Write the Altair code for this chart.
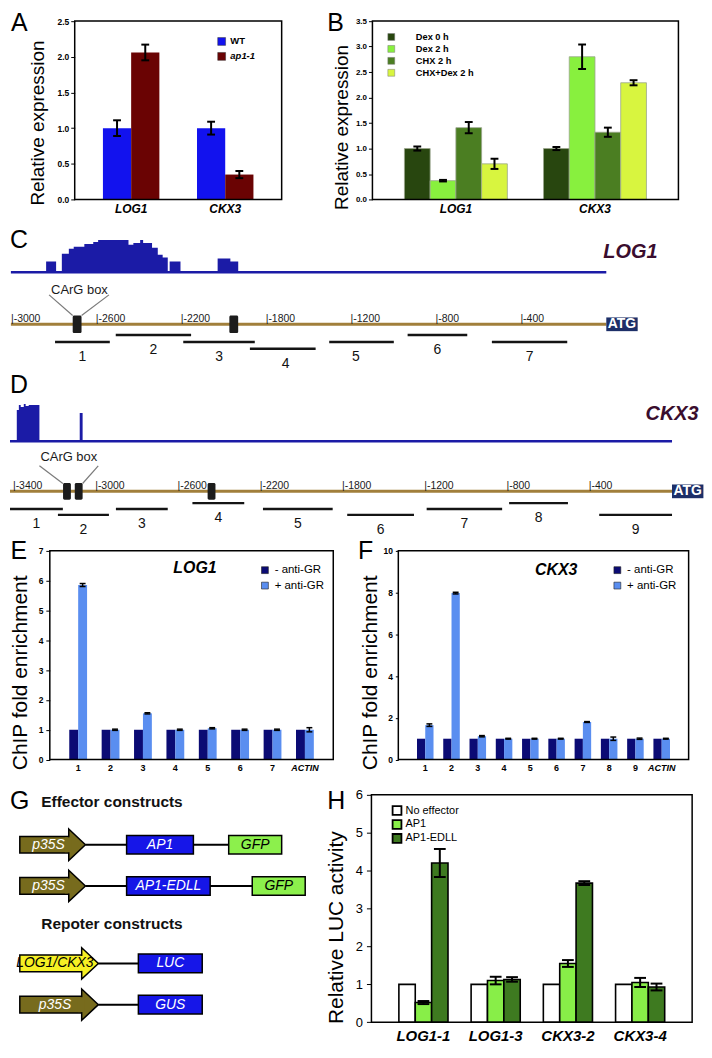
import altair as alt
import pandas as pd

K = 0.985


def px(v):
    return round(v * K, 2)


FONT = "Liberation Sans"

# ---------------- Panel A data ----------------
a_genes = ["LOG1", "CKX3"]
a_lines = ["WT", "ap1-1"]
a_wt = [1.00, 1.00]
a_wt_err = [0.11, 0.09]
a_ap1 = [2.06, 0.35]
a_ap1_err = [0.11, 0.05]
a_colors = ["#1212ee", "#6a0303"]

# ---------------- Panel B data ----------------
b_genes = ["LOG1", "CKX3"]
b_treat = ["Dex 0 h", "Dex 2 h", "CHX 2 h", "CHX+Dex 2 h"]
b_dex0 = [1.00, 1.00]
b_dex0_err = [0.04, 0.03]
b_dex2 = [0.37, 2.80]
b_dex2_err = [0.015, 0.24]
b_chx = [1.41, 1.32]
b_chx_err = [0.11, 0.09]
b_chxdex = [0.70, 2.29]
b_chxdex_err = [0.10, 0.05]
b_colors = ["#28460f", "#88f03e", "#4b7e22", "#d8f53f"]

# ---------------- Panel C data (LOG1 promoter) ----------------
c_ticks = [-3000, -2600, -2200, -1800, -1200, -800, -400, 0]
c_tick_labels = ["|-3000", "|-2600", "|-2200", "|-1800", "|-1200", "|-800", "|-400"]
c_cov_bp = [-3005, -2839, -2792, -2765, -2732, -2709, -2659, -2617, -2594, -2451, -2428,
            -2396, -2382, -2340, -2313, -2290, -2266, -2257, -2206, -2031, -1971, -1934, 0]
c_cov_val = [0, 11, 0, 19, 24, 26, 29, 31, 33, 28, 30, 33, 30, 25, 18, 15, 0, 11, 0, 14, 11, 0, 0]
c_frag_name = ["1", "2", "3", "4", "5", "6", "7"]
c_frag_start = [-2797, -2511, -2193, -1879, -1358, -936, -539]
c_frag_end = [-2539, -2156, -1856, -1454, -1001, -655, -184]
c_frag_lane = [2, 1, 2, 3, 2, 1, 2]
c_carg_bp = [-2693, -1955]
c_carg_label_bp = -2682
c_carg_line_from = [-2825, -2543]
c_carg_line_to = [-2714, -2672]

# ---------------- Panel D data (CKX3 promoter) ----------------
d_ticks = [-3400, -3000, -2600, -2200, -1800, -1200, -800, -400, 0]
d_tick_labels = ["|-3400", "|-3000", "|-2600", "|-2200", "|-1800", "|-1200", "|-800", "|-400"]
d_cov_bp = [-3419, -3386, -3376, -3367, -3352, -3343, -3328, -3276, -3080, -3066, 0]
d_cov_val = [0, 32, 37, 35, 38, 36, 37, 0, 29, 0, 0]
d_frag_name = ["1", "2", "3", "4", "5", "6", "7", "8", "9"]
d_frag_start = [-3419, -3186, -2904, -2532, -2189, -1769, -1193, -792, -354]
d_frag_end = [-3162, -2938, -2652, -2280, -1850, -1282, -826, -506, 0]
d_frag_lane = [2, 3, 2, 1, 2, 3, 2, 1, 3]
d_carg_bp = [-3142, -3085, -2439]
d_carg_label_bp = -3133
d_carg_line_from = [-3276, -2990]
d_carg_line_to = [-3162, -3066]

# ---------------- Panel E data (ChIP LOG1) ----------------
e_sites = ["1", "2", "3", "4", "5", "6", "7", "ACTIN"]
e_groups = ["- anti-GR", "+ anti-GR"]
e_minus = [1.0, 1.0, 1.0, 1.0, 1.0, 1.0, 1.0, 1.0]
e_minus_err = [0, 0, 0, 0, 0, 0, 0, 0]
e_plus = [5.85, 1.0, 1.55, 1.0, 1.05, 1.0, 1.0, 1.0]
e_plus_err = [0.05, 0.02, 0.02, 0.02, 0.02, 0.02, 0.02, 0.07]

# ---------------- Panel F data (ChIP CKX3) ----------------
f_sites = ["1", "2", "3", "4", "5", "6", "7", "8", "9", "ACTIN"]
f_minus = [1.0] * 10
f_minus_err = [0] * 10
f_plus = [1.65, 7.97, 1.12, 1.0, 1.0, 1.0, 1.8, 1.0, 1.0, 1.0]
f_plus_err = [0.06, 0.04, 0.03, 0.02, 0.02, 0.02, 0.02, 0.08, 0.03, 0.02]
ef_colors = ["#0b0b74", "#5a8ef0"]

# ---------------- Panel G data (constructs) ----------------
g_head_row = [0, 3]
g_head_text = ["Effector constructs", "Repoter constructs"]
g_head_x = [7.3, 7.3]
g_prom_row = [1, 2, 4, 5]
g_prom_start = [0.0, 0.0, 0.0, 0.0]
g_prom_end = [22.3, 22.3, 26.7, 26.7]
g_prom_label = ["p35S", "p35S", "LOG1/CKX3", "p35S"]
g_prom_fill = ["#776b1d", "#776b1d", "#f6f024", "#776b1d"]
g_prom_textcol = ["white", "white", "black", "white"]
g_box_row = [1, 1, 2, 2, 4, 5]
g_box_start = [36.3, 71.0, 36.3, 79.0, 40.3, 40.3]
g_box_end = [59.0, 89.0, 64.7, 97.0, 62.0, 62.0]
g_box_label = ["AP1", "GFP", "AP1-EDLL", "GFP", "LUC", "GUS"]
g_box_fill = ["#1616e8", "#8cf04c", "#1616e8", "#8cf04c", "#1616e8", "#1616e8"]
g_box_textcol = ["white", "black", "white", "black", "white", "white"]
g_link_end = [71.0, 79.0, 40.3, 40.3]
G_HEAD = 5.67  # arrow-head length in construct units

# ---------------- Panel H data (LUC assay) ----------------
h_reporters = ["LOG1-1", "LOG1-3", "CKX3-2", "CKX3-4"]
h_groups = ["No effector", "AP1", "AP1-EDLL"]
h_none = [1.0, 1.0, 1.0, 1.0]
h_none_err = [0, 0, 0, 0]
h_ap1 = [0.52, 1.10, 1.55, 1.05]
h_ap1_err = [0.04, 0.10, 0.09, 0.12]
h_edll = [4.20, 1.13, 3.67, 0.93]
h_edll_err = [0.37, 0.06, 0.05, 0.09]
h_colors = ["#ffffff", "#88ee48", "#3e7a20"]


# ======================= helpers =======================
def long_df(cats, groups, means, errs):
    rows = []
    for g, mlist, elist in zip(groups, means, errs):
        for c, m, e in zip(cats, mlist, elist):
            rows.append(dict(cat=c, grp=g, mean=m, err=e, lo=m - e, hi=m + e))
    return pd.DataFrame(rows)


def text_mark(t, x, y, size, weight="normal", style="normal", color="black",
              align="left", baseline="alphabetic"):
    return alt.Chart(pd.DataFrame({"t": [t]})).mark_text(
        font=FONT, fontSize=size, fontWeight=weight, fontStyle=style, color=color,
        align=align, baseline=baseline
    ).encode(text="t:N", x=alt.value(px(x)), y=alt.value(px(y)))


def y_axis(vals, fmt, lab_size, lab_weight, tick, lab_pad, title, t_size, tx, ty):
    return alt.Axis(values=vals, tickCount=len(vals), format=fmt, grid=False, domain=False,
                    ticks=True, tickSize=tick, tickColor="black", tickWidth=1,
                    labelOverlap=False, labelFlush=False,
                    labelFont=FONT, labelFontSize=lab_size, labelFontWeight=lab_weight,
                    labelColor="black", labelPadding=lab_pad,
                    title=title, titleFont=FONT, titleFontSize=t_size,
                    titleFontWeight="normal", titleColor="black", titleAngle=-90,
                    titleAlign="center", titleBaseline="middle",
                    titleX=px(tx), titleY=px(ty))


def x_axis(size, style, pad):
    return alt.Axis(ticks=False, domain=False, labelAngle=0, labelFont=FONT,
                    labelOverlap=False, labelFontSize=size, labelFontWeight="bold",
                    labelFontStyle=style, labelColor="black", labelPadding=px(pad),
                    title=None)


def legend(lx, ly, sym, size, weight, offset, rowpad, stroke="black", sw=0.5, style="normal"):
    return alt.Legend(orient="none", legendX=px(lx), legendY=px(ly), title=None,
                      symbolType="square", symbolSize=px(sym) ** 2,
                      symbolStrokeColor=stroke, symbolStrokeWidth=sw, symbolOpacity=1,
                      labelFont=FONT, labelFontSize=size, labelFontWeight=weight,
                      labelFontStyle=style,
                      labelColor="black", labelOffset=offset, rowPadding=rowpad,
                      padding=0)


def bar_panel(df, cats, groups, colors, w, h, mt, ymax, yaxis, xaxis, leg,
              pin, pout, cap, ew, bar_kw, extras):
    xs = alt.Scale(paddingInner=pin, paddingOuter=pout)
    xo = alt.XOffset("grp:N", sort=groups,
                     scale=alt.Scale(domain=groups, paddingInner=0, paddingOuter=0))
    ys = alt.Scale(domain=[0, ymax], range=[px(mt + h), px(mt)], nice=False, zero=True)
    xe = alt.X("cat:N", sort=cats, scale=xs, title=None, axis=xaxis)
    bars = alt.Chart(df).mark_bar(opacity=1, **bar_kw).encode(
        x=xe,
        xOffset=xo,
        y=alt.Y("mean:Q", scale=ys, axis=yaxis),
        color=alt.Color("grp:N", sort=groups,
                        scale=alt.Scale(domain=groups, range=colors), legend=leg),
    )
    edf = df[df["err"] > 0]
    rule = alt.Chart(edf).mark_rule(color="black", strokeWidth=ew, opacity=1).encode(
        x=xe, xOffset=xo, y=alt.Y("lo:Q", scale=ys, axis=yaxis), y2="hi:Q")
    cap_lo = alt.Chart(edf).mark_tick(color="black", thickness=ew, size=px(cap), opacity=1).encode(
        x=xe, xOffset=xo, y=alt.Y("lo:Q", scale=ys, axis=yaxis))
    cap_hi = alt.Chart(edf).mark_tick(color="black", thickness=ew, size=px(cap), opacity=1).encode(
        x=xe, xOffset=xo, y=alt.Y("hi:Q", scale=ys, axis=yaxis))
    frame = alt.Chart(pd.DataFrame({"f": [0]})).mark_rect(
        fillOpacity=0, stroke="black", strokeWidth=1.5, opacity=1).encode(
        x=alt.value(0), x2=alt.value(px(w)), y=alt.value(px(mt)), y2=alt.value(px(mt + h)))
    return alt.layer(bars, rule, cap_lo, cap_hi, frame, *extras).properties(
        width=px(w), height=px(mt + h))


def spacer(w, h=1):
    return alt.Chart(pd.DataFrame({"s": [0]})).mark_point(size=0, opacity=0).encode(
        x=alt.value(1), y=alt.value(1)).properties(width=px(w), height=px(h))


def promoter_panel(ticks, tick_labels, x0, step, cov_bp, cov_val, cov_base,
                   frag_name, frag_start, frag_end, frag_lane,
                   carg_bp, carg_w, carg_h, carg_label_bp, line_from, line_to,
                   carg_dy, line_top, line_bot, lane_px, gene, gene_x, gene_y,
                   letter, letter_y, width, height):
    TRACK = "#1b1ba6"
    RULER = "#a17f3b"
    xs = alt.Scale(domain=ticks, range=[px(x0 + step * i) for i in range(len(ticks))],
                   zero=False, nice=False)
    ys_cov = alt.Scale(domain=[0, 40], range=[px(cov_base), px(cov_base - 40)],
                       zero=False, nice=False)
    ys_lane = alt.Scale(domain=[0, 1, 3], range=[px(v) for v in lane_px],
                        zero=False, nice=False)

    cov_df = pd.DataFrame({"bp": cov_bp, "val": cov_val})
    track_df = pd.DataFrame({"s": [cov_bp[0]], "e": [ticks[-1]], "zero": [0], "lane": [0]})

    area = alt.Chart(cov_df).mark_area(interpolate="step-after", color=TRACK, opacity=1).encode(
        x=alt.X("bp:Q", scale=xs, axis=None),
        y=alt.Y("val:Q", scale=ys_cov, axis=None))
    base = alt.Chart(track_df).mark_rule(color=TRACK, strokeWidth=px(2.5)).encode(
        x=alt.X("s:Q", scale=xs, axis=None), x2="e:Q",
        y=alt.Y("zero:Q", scale=ys_cov, axis=None))
    cov_layer = alt.layer(area, base)

    ruler = alt.Chart(track_df).mark_rule(color=RULER, strokeWidth=px(3)).encode(
        x=alt.X("s:Q", scale=xs, axis=None), x2="e:Q",
        y=alt.Y("lane:Q", scale=ys_lane, axis=None))
    tick_df = pd.DataFrame({"bp": ticks[:len(tick_labels)], "label": tick_labels, "lane": 0})
    tick_txt = alt.Chart(tick_df).mark_text(
        font=FONT, fontSize=10.5, align="left", baseline="alphabetic", dx=-1, dy=-px(2.5),
        color="#1a1a1a").encode(
        x=alt.X("bp:Q", scale=xs, axis=None),
        y=alt.Y("lane:Q", scale=ys_lane, axis=None), text="label:N")
    line_df = pd.DataFrame({"a": line_from, "b": line_to, "lane": 0})
    carg_lines = alt.Chart(line_df).mark_rule(
        color="#7a7a7a", strokeWidth=1.2, yOffset=px(line_top), y2Offset=px(line_bot)).encode(
        x=alt.X("a:Q", scale=xs, axis=None), x2="b:Q",
        y=alt.Y("lane:Q", scale=ys_lane, axis=None), y2="lane:Q")
    box_df = pd.DataFrame({"bp": carg_bp, "lane": 0})
    boxes = alt.Chart(box_df).mark_tick(
        orient="vertical", thickness=px(carg_w), size=px(carg_h), color="#1c1c1c",
        opacity=1, cornerRadius=1.5).encode(
        x=alt.X("bp:Q", scale=xs, axis=None),
        y=alt.Y("lane:Q", scale=ys_lane, axis=None))
    carg_txt = alt.Chart(pd.DataFrame({"bp": [carg_label_bp], "lane": [0], "t": ["CArG box"]})).mark_text(
        font=FONT, fontSize=13, align="center", baseline="middle", dy=px(carg_dy),
        color="#1a1a1a").encode(
        x=alt.X("bp:Q", scale=xs, axis=None),
        y=alt.Y("lane:Q", scale=ys_lane, axis=None), text="t:N")
    frag_df = pd.DataFrame({"name": frag_name, "start": frag_start, "end": frag_end,
                            "lane": frag_lane})
    frags = alt.Chart(frag_df).mark_rule(color="#141414", strokeWidth=px(2.5)).encode(
        x=alt.X("start:Q", scale=xs, axis=None), x2="end:Q",
        y=alt.Y("lane:Q", scale=ys_lane, axis=None))
    frag_txt = alt.Chart(frag_df).transform_calculate(
        mid="(datum.start + datum.end) / 2").mark_text(
        font=FONT, fontSize=14, align="center", baseline="middle", dy=px(15),
        color="#111111").encode(
        x=alt.X("mid:Q", scale=xs, axis=None),
        y=alt.Y("lane:Q", scale=ys_lane, axis=None), text="name:N")
    atg_df = pd.DataFrame({"bp": [ticks[-1]], "lane": [0], "t": ["ATG"]})
    atg_box = alt.Chart(atg_df).mark_rect(
        color="#1d2f68", opacity=1, x2Offset=px(32), yOffset=-px(7), y2Offset=px(7)).encode(
        x=alt.X("bp:Q", scale=xs, axis=None), x2="bp:Q",
        y=alt.Y("lane:Q", scale=ys_lane, axis=None), y2="lane:Q")
    atg_txt = alt.Chart(atg_df).mark_text(
        font=FONT, fontSize=14, fontWeight="bold", color="white", align="center",
        baseline="middle", dx=px(16)).encode(
        x=alt.X("bp:Q", scale=xs, axis=None),
        y=alt.Y("lane:Q", scale=ys_lane, axis=None), text="t:N")
    lane_layer = alt.layer(ruler, tick_txt, carg_lines, boxes, carg_txt, frags, frag_txt,
                           atg_box, atg_txt)
    gene_txt = text_mark(gene, gene_x, gene_y, 20, weight="bold", style="italic",
                         color="#3a0d2e")
    letter_txt = text_mark(letter, 0, letter_y, 25)
    return alt.layer(cov_layer, lane_layer, gene_txt, letter_txt).resolve_scale(
        y="independent").properties(width=px(width), height=px(height))


# ======================= Panel A (origin ref y 4) =======================
dfA = long_df(a_genes, a_lines, [a_wt, a_ap1], [a_wt_err, a_ap1_err])
panelA = bar_panel(
    dfA, a_genes, a_lines, a_colors, 211, 182, 9, 2.5,
    y_axis([0, 0.5, 1.0, 1.5, 2.0, 2.5], ".1f", 8.5, "bold", 4, 2,
           "Relative expression", 19, -38, 112.5),
    x_axis(12, "italic", 4),
    legend(145, 25, 8, 9.5, "bold", 4, 4, stroke="#333", sw=0.5,
           style={"expr": "datum.label == 'ap1-1' ? 'italic' : 'normal'"}),
    0.4, 0.3, 8, 2, {}, [text_mark("A", -65, 19, 25)])

# ======================= Panel B =======================
dfB = long_df(b_genes, b_treat, [b_dex0, b_dex2, b_chx, b_chxdex],
              [b_dex0_err, b_dex2_err, b_chx_err, b_chxdex_err])
panelB = bar_panel(
    dfB, b_genes, b_treat, b_colors, 312, 182, 9, 3.5,
    y_axis([0, 0.5, 1.0, 1.5, 2.0, 2.5, 3.0, 3.5], ".1f", 8, "bold", 4, 2,
           "Relative expression", 19, -31, 117),
    x_axis(12, "italic", 4),
    legend(14.5, 20.5, 7, 9.3, "bold", 20, 2, stroke="#777", sw=0.5),
    0.26, 0.23, 8, 2, {"stroke": "#9aa58e", "strokeWidth": 0.8},
    [text_mark("B", -46, 19, 25)])

# ======================= Panels C (origin 218), D (origin 372) =======================
panelC = promoter_panel(
    c_ticks, c_tick_labels, 2, 86.57, c_cov_bp, c_cov_val, 52,
    c_frag_name, c_frag_start, c_frag_end, c_frag_lane,
    c_carg_bp, 9, 18, c_carg_label_bp, c_carg_line_from, c_carg_line_to,
    -35, -30, -9, [105, 116, 130], "LOG1", 605, 37, "C", 27, 608, 154)

panelD = promoter_panel(
    d_ticks, d_tick_labels, 4, 83.875, d_cov_bp, d_cov_val, 70,
    d_frag_name, d_frag_start, d_frag_end, d_frag_lane,
    d_carg_bp, 8, 17, d_carg_label_bp, d_carg_line_from, d_carg_line_to,
    -35, -26, -8, [121, 133, 145], "CKX3", 648, 48, "D", 21, 675, 168)

# ======================= Panels E, F (origin 540) =======================
actin_style = {"condition": {"test": "datum.value == 'ACTIN'", "value": "italic"},
               "value": "normal"}
dfE = long_df(e_sites, e_groups, [e_minus, e_plus], [e_minus_err, e_plus_err])
panelE = bar_panel(
    dfE, e_sites, e_groups, ef_colors, 289, 213, 13, 7,
    y_axis(list(range(0, 8)), "d", 8.5, "bold", 4, 3,
           "ChIP fold enrichment", 21, -30, 137),
    x_axis(9, actin_style, 4),
    legend(213.5, 27, 7, 11.5, "normal", 4, 2.5, stroke="#222", sw=0.6),
    0.45, 0.6, 6, 1.5, {},
    [text_mark("E", -40, 21, 25),
     text_mark("LOG1", 148, 36, 16, weight="bold", style="italic", align="center")])

dfF = long_df(f_sites, e_groups, [f_minus, f_plus], [f_minus_err, f_plus_err])
panelF = bar_panel(
    dfF, f_sites, e_groups, ef_colors, 296, 213, 13, 10,
    y_axis([0, 2, 4, 6, 8, 10], "d", 8.5, "bold", 3, 3,
           "ChIP fold enrichment", 21, -28, 137),
    x_axis(9, actin_style, 4),
    legend(217.5, 27, 7, 11.5, "normal", 4, 2.5, stroke="#222", sw=0.6),
    0.37, 0.71, 6, 1.5, {},
    [text_mark("F", -41, 21, 25),
     text_mark("CKX3", 161, 38, 16, weight="bold", style="italic", align="center")])

# ======================= Panel G (origin 796) =======================
xs_g = alt.Scale(domain=[0, 100], range=[px(10), px(310)], zero=False, nice=False)
ys_g = alt.Scale(domain=[0, 1, 2, 3, 4, 5], range=[px(v) for v in [14, 58, 100, 139, 179, 221]],
                 zero=False, nice=False)

prom_df = pd.DataFrame({"row": g_prom_row, "start": g_prom_start, "end": g_prom_end,
                        "label": g_prom_label, "fill": g_prom_fill, "tc": g_prom_textcol,
                        "link_end": g_link_end})
prom_df["body_end"] = prom_df["end"] - G_HEAD
prom_df["tx"] = (prom_df["start"] + prom_df["end"]) / 2 - G_HEAD / 4
box_df = pd.DataFrame({"row": g_box_row, "start": g_box_start, "end": g_box_end,
                       "label": g_box_label, "fill": g_box_fill, "tc": g_box_textcol})
box_df["mid"] = (box_df["start"] + box_df["end"]) / 2
head_df = pd.DataFrame({"row": g_head_row, "t": g_head_text, "x": g_head_x})


def gx(f):
    return alt.X(f, scale=xs_g, axis=None)


def gy(f):
    return alt.Y(f, scale=ys_g, axis=None)


g_heads = alt.Chart(head_df).mark_text(
    font=FONT, fontSize=15.5, fontWeight="bold", align="left", baseline="middle",
    color="#111").encode(x=gx("x:Q"), y=gy("row:Q"), text="t:N")
g_links = alt.Chart(prom_df).mark_rule(color="black", strokeWidth=2).encode(
    x=gx("end:Q"), x2="link_end:Q", y=gy("row:Q"))
g_body = alt.Chart(prom_df).mark_rect(
    stroke="black", strokeWidth=1.5, opacity=1, yOffset=-px(8.5), y2Offset=px(8.5)).encode(
    x=gx("start:Q"), x2="body_end:Q", y=gy("row:Q"), y2="row:Q",
    fill=alt.Fill("fill:N", scale=None))
g_tip = alt.Chart(prom_df).mark_point(
    shape="M-1.0625,-1L0,0L-1.0625,1Z", size=px(32) ** 2, filled=True, opacity=1,
    stroke="black", strokeWidth=1.5).encode(
    x=gx("end:Q"), y=gy("row:Q"), fill=alt.Fill("fill:N", scale=None))
g_cover = alt.Chart(prom_df).mark_rect(
    opacity=1, strokeWidth=0, xOffset=-px(4), x2Offset=px(2.5),
    yOffset=-px(7.6), y2Offset=px(7.6)).encode(
    x=gx("body_end:Q"), x2="body_end:Q", y=gy("row:Q"), y2="row:Q",
    fill=alt.Fill("fill:N", scale=None))
g_ptxt = alt.Chart(prom_df).mark_text(
    font=FONT, fontSize=14, fontStyle="italic", align="center", baseline="middle").encode(
    x=gx("tx:Q"), y=gy("row:Q"), text="label:N", color=alt.Color("tc:N", scale=None))
g_box = alt.Chart(box_df).mark_rect(
    stroke="black", strokeWidth=1.5, opacity=1, yOffset=-px(9.5), y2Offset=px(9.5)).encode(
    x=gx("start:Q"), x2="end:Q", y=gy("row:Q"), y2="row:Q",
    fill=alt.Fill("fill:N", scale=None))
g_btxt = alt.Chart(box_df).mark_text(
    font=FONT, fontSize=14, fontStyle="italic", align="center", baseline="middle").encode(
    x=gx("mid:Q"), y=gy("row:Q"), text="label:N", color=alt.Color("tc:N", scale=None))
panelG = alt.layer(g_heads, g_links, g_body, g_tip, g_cover, g_ptxt, g_box, g_btxt,
                   text_mark("G", 0, 22, 25)).properties(width=px(310), height=px(239))

# ======================= Panel H =======================
dfH = long_df(h_reporters, h_groups, [h_none, h_ap1, h_edll],
              [h_none_err, h_ap1_err, h_edll_err])
panelH = bar_panel(
    dfH, h_reporters, h_groups, h_colors, 327, 232, 7, 6,
    y_axis([0, 1, 2, 3, 4, 5, 6], "d", 13, "normal", 5, 4,
           "Relative LUC activity", 21, -36, 142),
    x_axis(15, "italic", 6),
    legend(20.5, 17.5, 9, 11, "normal", 3, -10, stroke="black", sw=1.8),
    0.32, 0.38, 12, 2, {"stroke": "black", "strokeWidth": 1.6},
    [text_mark("H", -45, 22, 25)])

# ======================= layout =======================
RES = dict(color="independent", xOffset="independent")

row1 = alt.hconcat(spacer(65, 213), panelA, spacer(92), panelB,
                   spacing=0, bounds="flush").resolve_scale(**RES)
rowEF = alt.hconcat(spacer(40, 254), panelE, spacer(65), panelF,
                    spacing=0, bounds="flush").resolve_scale(**RES)
rowGH = alt.hconcat(panelG, spacer(57), panelH,
                    spacing=0, bounds="flush").resolve_scale(**RES)

chart = alt.vconcat(
    row1, panelC, panelD, rowEF, rowGH, spacing=0, bounds="full"
).resolve_scale(**RES).properties(
    padding=0, background="white"
).configure_view(stroke=None).configure_axis(
    labelFont=FONT, titleFont=FONT, labelOverlap=False)

chart.save("out.html", embed_options={"renderer": "svg", "actions": False})
